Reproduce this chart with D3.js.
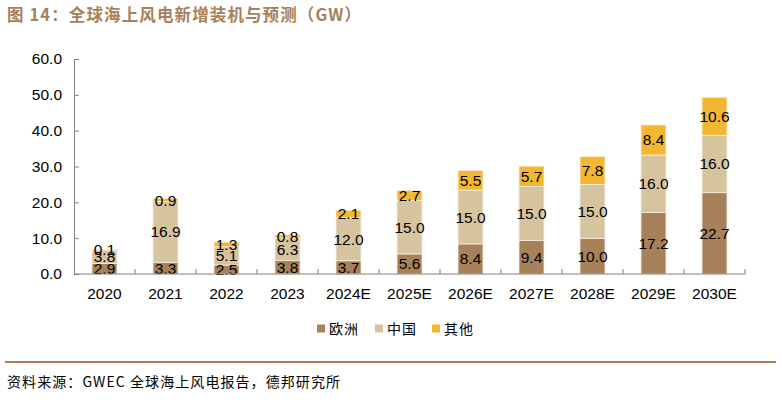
<!DOCTYPE html>
<html><head><meta charset="utf-8">
<script src="https://cdn.jsdelivr.net/npm/d3@7"></script>
<style>
body{margin:0;background:#fff;}
svg{display:block;}
</style></head>
<body>
<svg id="c" width="782" height="404"></svg>
<script>
const categories = ["2020","2021","2022","2023","2024E","2025E","2026E","2027E","2028E","2029E","2030E"];
const europe = [2.9,3.3,2.5,3.8,3.7,5.6,8.4,9.4,10.0,17.2,22.7];
const china = [3.8,16.9,5.1,6.3,12.0,15.0,15.0,15.0,15.0,16.0,16.0];
const others = [0.1,0.9,1.3,0.8,2.1,2.7,5.5,5.7,7.8,8.4,10.6];
const seriesNames = ["欧洲","中国","其他"];
const colors = ["#A6815A","#D5C49E","#F3B731"];
const yTicks = [0,10,20,30,40,50,60];

const svg = d3.select("#c");
const font = "'Liberation Sans', Arial, sans-serif";
const cjk = "'Noto Sans CJK SC', sans-serif";

// title
svg.append("text").attr("x",7).attr("y",21)
  .attr("font-family",cjk).attr("font-weight","bold").attr("font-size",16.5)
  .attr("textLength",354).attr("lengthAdjust","spacing")
  .attr("fill","#A6815A").text("图 14：全球海上风电新增装机与预测（GW）");

const x = d3.scaleBand().domain(categories).range([74,745]).paddingInner(0.59).paddingOuter(0.295);
const xb = d3.scaleBand().domain(categories).range([74,745]);
const y = d3.scaleLinear().domain([0,60]).range([274,59]);

const data = categories.map((c,i)=>({cat:c, v:[europe[i],china[i],others[i]]}));
const stacked = d3.stack().keys([0,1,2]).value((d,k)=>d.v[k])(data);

const g = svg.append("g");
stacked.forEach((layer,k)=>{
  g.selectAll(null).data(layer).enter().append("rect")
    .attr("x",d=>x(d.data.cat)).attr("width",x.bandwidth())
    .attr("y",d=>y(d[1])).attr("height",d=>y(d[0])-y(d[1]))
    .attr("fill",colors[k]).attr("stroke","#f7efe4").attr("stroke-width",0.8);
});
stacked.forEach((layer,k)=>{
  g.selectAll(null).data(layer).enter().append("text")
    .attr("x",d=>x(d.data.cat)+x.bandwidth()/2)
    .attr("y",d=>y((d[0]+d[1])/2)+5.5)
    .attr("text-anchor","middle").attr("font-family",font).attr("font-size",15.5)
    .attr("fill","#000").text((d,i)=>d.data.v[k].toFixed(1));
});

// y axis
const yAxis = d3.axisLeft(y).tickValues(yTicks).tickFormat(d3.format(".1f")).tickSizeInner(-5).tickSizeOuter(0).tickPadding(12);
const ya = svg.append("g").attr("transform","translate(74,0)").call(yAxis);
ya.select(".domain").attr("stroke","#808080");
ya.selectAll(".tick line").attr("stroke","#808080");
ya.selectAll("text").attr("font-family",font).attr("font-size",15.5).attr("fill","#000");

// x axis
const xa = svg.append("g").attr("transform","translate(0,274)");
xa.append("line").attr("x1",74).attr("x2",745).attr("stroke","#808080");
const bounds = categories.map(c=>xb(c)).concat([xb(categories[categories.length-1])+xb.bandwidth()]);
xa.selectAll(null).data(bounds.slice(1)).enter().append("line")
  .attr("x1",d=>d).attr("x2",d=>d).attr("y1",0).attr("y2",-5).attr("stroke","#808080");
xa.selectAll(null).data(categories).enter().append("text")
  .attr("x",d=>xb(d)+xb.bandwidth()/2).attr("y",24.5)
  .attr("text-anchor","middle").attr("font-family",font).attr("font-size",15.5).attr("fill","#000").text(d=>d);

// legend
const lx = [317,375,432];
seriesNames.forEach((n,k)=>{
  svg.append("rect").attr("x",lx[k]).attr("y",324.5).attr("width",8).attr("height",8).attr("fill",colors[k]);
  svg.append("text").attr("x",lx[k]+12).attr("y",334).attr("font-family",cjk).attr("font-size",14)
    .attr("textLength",29).attr("lengthAdjust","spacing")
    .attr("fill","#000").text(n);
});

// footer
svg.append("line").attr("x1",5).attr("x2",776).attr("y1",362).attr("y2",362).attr("stroke","#A6815A").attr("stroke-width",2);
svg.append("text").attr("x",7).attr("y",387).attr("font-family",cjk).attr("font-size",14).attr("fill","#000")
  .attr("textLength",333).attr("lengthAdjust","spacing")
  .text("资料来源：GWEC 全球海上风电报告，德邦研究所");
</script>
</body></html>
